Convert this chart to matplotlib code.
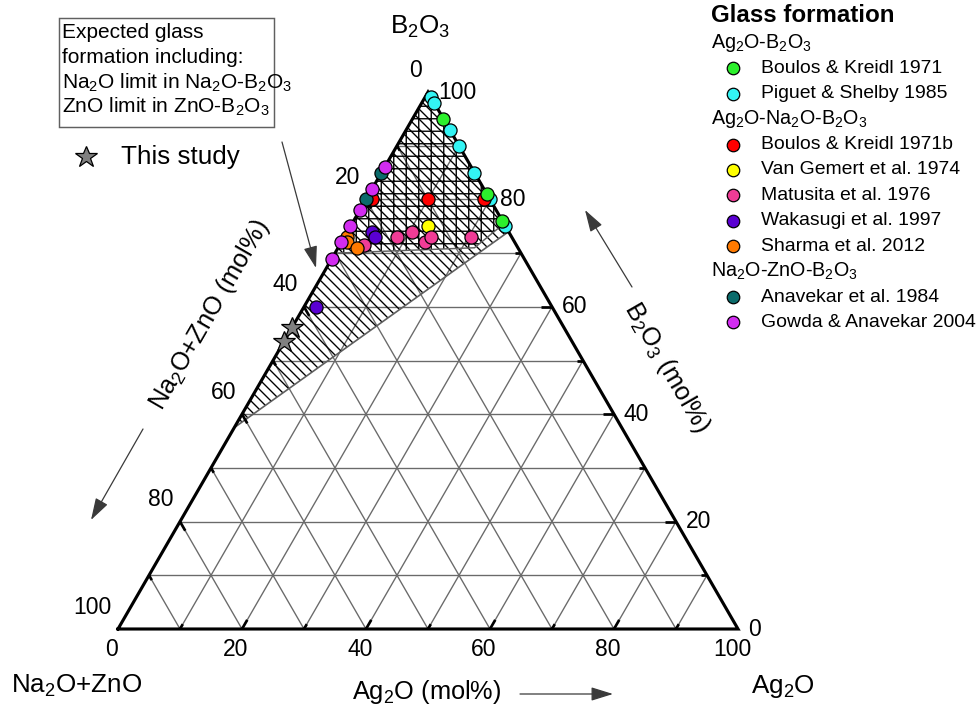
import re
import numpy as np
import matplotlib
matplotlib.use('Agg')
import matplotlib.pyplot as plt
from matplotlib.patches import Polygon, Rectangle

plt.rcParams['font.family'] = ['Liberation Sans', 'DejaVu Sans']
plt.rcParams['mathtext.fontset'] = 'custom'
plt.rcParams['mathtext.rm'] = 'Liberation Sans'
plt.rcParams['hatch.linewidth'] = 0.65

# compositions in mol%: Ag2O and B2O3 (Na2O+ZnO is the remainder)
boulos71_b2o3 = [95, 81, 76]
piguet_b2o3 = [99, 98, 93, 90, 85, 80, 75]
boulos71b_ag2o = [10, 19, 1]
boulos71b_b2o3 = [80, 80, 80]
vangemert_ag2o = [12.5]
vangemert_b2o3 = [75]
matusita_ag2o = [8.5, 10.5, 13.5, 14, 20.5, 4]
matusita_b2o3 = [73, 74, 72, 73, 73, 71.5]
wakasugi_ag2o = [4, 5, 2]
wakasugi_b2o3 = [74, 73, 60]
sharma_ag2o = [0.5, 1, 3]
sharma_b2o3 = [73, 72, 71]
anavekar_b2o3 = [85, 80]
gowda_b2o3 = [86, 82, 78, 75, 72, 69]
this_study_b2o3 = [56, 53.5]

# glass forming regions as (Ag2O, B2O3) corners
expected_region = [(0, 100), (26, 74), (0, 37.5)]
known_region = [(0, 100), (24.5, 75.5), (22, 71), (0, 70)]

tick_values = [0, 20, 40, 60, 80, 100]

W, H = 978, 710


def chem(s):
    # subscript digits that follow a letter
    return re.sub(r'(?<=[A-Za-z])(\d)', r'$_\\mathregular{\1}$', s)


def tern(ag, b):
    ag = np.asarray(ag, dtype=float) / 100
    b = np.asarray(b, dtype=float) / 100
    return ag + b / 2, b * np.sqrt(3) / 2


def fpx(x, y):
    return x / W, 1 - y / H


studies = [
    ('Boulos & Kreidl 1971', '#2cf02c', [100 - v for v in boulos71_b2o3], boulos71_b2o3, 6),
    ('Piguet & Shelby 1985', '#33f4f4', [100 - v for v in piguet_b2o3], piguet_b2o3, 5),
    ('Boulos & Kreidl 1971b', '#ff0000', boulos71b_ag2o, boulos71b_b2o3, 5),
    ('Van Gemert et al. 1974', '#ffff00', vangemert_ag2o, vangemert_b2o3, 5),
    ('Matusita et al. 1976', '#f03c96', matusita_ag2o, matusita_b2o3, 5),
    ('Wakasugi et al. 1997', '#5a00d2', wakasugi_ag2o, wakasugi_b2o3, 5),
    ('Sharma et al. 2012', '#ff7a00', sharma_ag2o, sharma_b2o3, 6),
    ('Anavekar et al. 1984', '#0b6b6b', [0] * len(anavekar_b2o3), anavekar_b2o3, 6),
    ('Gowda & Anavekar 2004', '#d22cf0', [0] * len(gowda_b2o3), gowda_b2o3, 7),
]
legend_groups = [('Ag2O-B2O3', 0, 2), ('Ag2O-Na2O-B2O3', 2, 7), ('Na2O-ZnO-B2O3', 7, 9)]

fig = plt.figure(figsize=(W / 150, H / 150), dpi=150)
ax = fig.add_axes([0, 0, 1, 1])
ax.axis('off')

# grid
grid_kw = dict(color='#6a6a6a', lw=0.65, zorder=1)
for v in range(10, 100, 10):
    ax.plot(*tern([0, 100 - v], [v, v]), **grid_kw)
    ax.plot(*tern([v, v], [0, 100 - v]), **grid_kw)
    ax.plot(*tern([0, 100 - v], [100 - v, 0]), **grid_kw)

# glass formation regions
ax.add_patch(Polygon(np.column_stack(tern(*zip(*expected_region))), closed=True,
                     facecolor='none', edgecolor='black', lw=0, hatch='\\' * 5, zorder=2))
ax.add_patch(Polygon(np.column_stack(tern(*zip(*known_region))), closed=True,
                     facecolor='none', edgecolor='black', lw=0, hatch='++', zorder=2))
ax.plot(*tern([expected_region[2][0], expected_region[1][0]],
              [expected_region[2][1], expected_region[1][1]]), color='#606060', lw=0.8, zorder=3)
ax.plot(*tern([p[0] for p in known_region[1:]], [p[1] for p in known_region[1:]]),
        color='#606060', lw=0.7, zorder=3)

# triangle outline
ax.plot(*tern([0, 100, 0, 0], [0, 0, 100, 0]), color='black', lw=1.5, zorder=4,
        solid_joinstyle='miter')

# ticks
for v in range(10, 100, 10):
    L = 1.7 if v % 20 == 0 else 0.9
    tk = dict(color='black', lw=1.3, zorder=4, solid_capstyle='butt')
    ax.plot(*tern([v, v], [0, L]), **tk)
    ax.plot(*tern([100 - v, 100 - v - L], [v, v]), **tk)
    ax.plot(*tern([0, L], [100 - v, 100 - v - L]), **tk)

# tick labels
for v in tick_values:
    ax.annotate(str(v), tern(v, 0), xytext=(-6, -21), textcoords='offset pixels',
                ha='center', va='center', fontsize=11)
    ax.annotate(str(v), tern(100 - v, v), xytext=(10, 0), textcoords='offset pixels',
                ha='left', va='center', fontsize=11)
    ax.annotate(str(v), tern(0, 100 - v), xytext=(-6, 22), textcoords='offset pixels',
                ha='right', va='center', fontsize=11)

# axis titles
ax.annotate(chem('Na2O+ZnO (mol%)'), tern(0, 50), xytext=(-63, 46), textcoords='offset pixels',
            ha='center', va='center', rotation=60, fontsize=12.2)
ax.annotate(chem('B2O3 (mol%)'), tern(50, 50), xytext=(84, -7), textcoords='offset pixels',
            ha='center', va='center', rotation=-60, fontsize=12.2)
ax.annotate(chem('Ag2O (mol%)'), tern(50, 0), xytext=(-1, -63), textcoords='offset pixels',
            ha='center', va='center', fontsize=12.2)
ax.annotate(chem('B2O3'), tern(0, 100), xytext=(-8, 65), textcoords='offset pixels',
            ha='center', va='center', fontsize=12.5)
fig.text(*fpx(77, 686), chem('Na2O+ZnO'), ha='center', va='center', fontsize=12.5)
fig.text(*fpx(783, 686), chem('Ag2O'), ha='center', va='center', fontsize=12.5)

arrow_kw = dict(arrowstyle='-|>,head_length=0.9,head_width=0.28', color='#3a3a3a', lw=0.6,
                shrinkA=0, shrinkB=0)
for tail, head in [((143, 429), (91, 520)), ((632, 287), (585, 210)),
                   ((520, 694), (613, 694)), ((282, 142), (316, 268))]:
    ax.annotate('', xy=fpx(*head), xycoords='figure fraction', xytext=fpx(*tail),
                textcoords='figure fraction', arrowprops=arrow_kw)

# data points
for label, color, ag, b, z in studies:
    ax.plot(*tern(ag, b), 'o', ms=6.3, mfc=color, mec='black', mew=0.6, zorder=z)
ax.plot(*tern([0] * len(this_study_b2o3), this_study_b2o3), '*', ms=11, mfc='#808080',
        mec='black', mew=0.6, zorder=8)

# annotation box and "This study"
fig.patches.append(Rectangle(fpx(59, 127), 215 / W, 109 / H, transform=fig.transFigure,
                             facecolor='none', edgecolor='#606060', lw=0.7))
box_lines = ['Expected glass', 'formation including:',
             chem('Na2O limit in Na2O-B2O3'), chem('ZnO limit in ZnO-B2O3')]
for i, line in enumerate(box_lines):
    fig.text(*fpx(62, 33 + i * 24.6), line, ha='left', va='center', fontsize=10)
ax.plot(*fpx(86, 157), '*', transform=fig.transFigure, ms=11, mfc='#808080', mec='black',
        mew=0.6, clip_on=False)
fig.text(*fpx(121, 157), 'This study', ha='left', va='center', fontsize=12.5)

# legend
fig.text(*fpx(711, 16), 'Glass formation', ha='left', va='center', fontsize=11.6,
         fontweight='bold')
row = 0
for header, i0, i1 in legend_groups:
    fig.text(*fpx(711, 43 + row * 25.4), chem(header), ha='left', va='center', fontsize=9.5)
    row += 1
    for label, color, ag, b, z in studies[i0:i1]:
        y = 43 + row * 25.4
        ax.plot(*fpx(733, y), 'o', transform=fig.transFigure, ms=6, mfc=color, mec='black',
                mew=0.6, clip_on=False)
        fig.text(*fpx(761, y), label, ha='left', va='center', fontsize=9.3)
        row += 1

ax.set_xlim(-118 / 620, 860 / 620)
ax.set_ylim(-81 / 620, 629 / 620)

fig.savefig('out.png', dpi=150)
